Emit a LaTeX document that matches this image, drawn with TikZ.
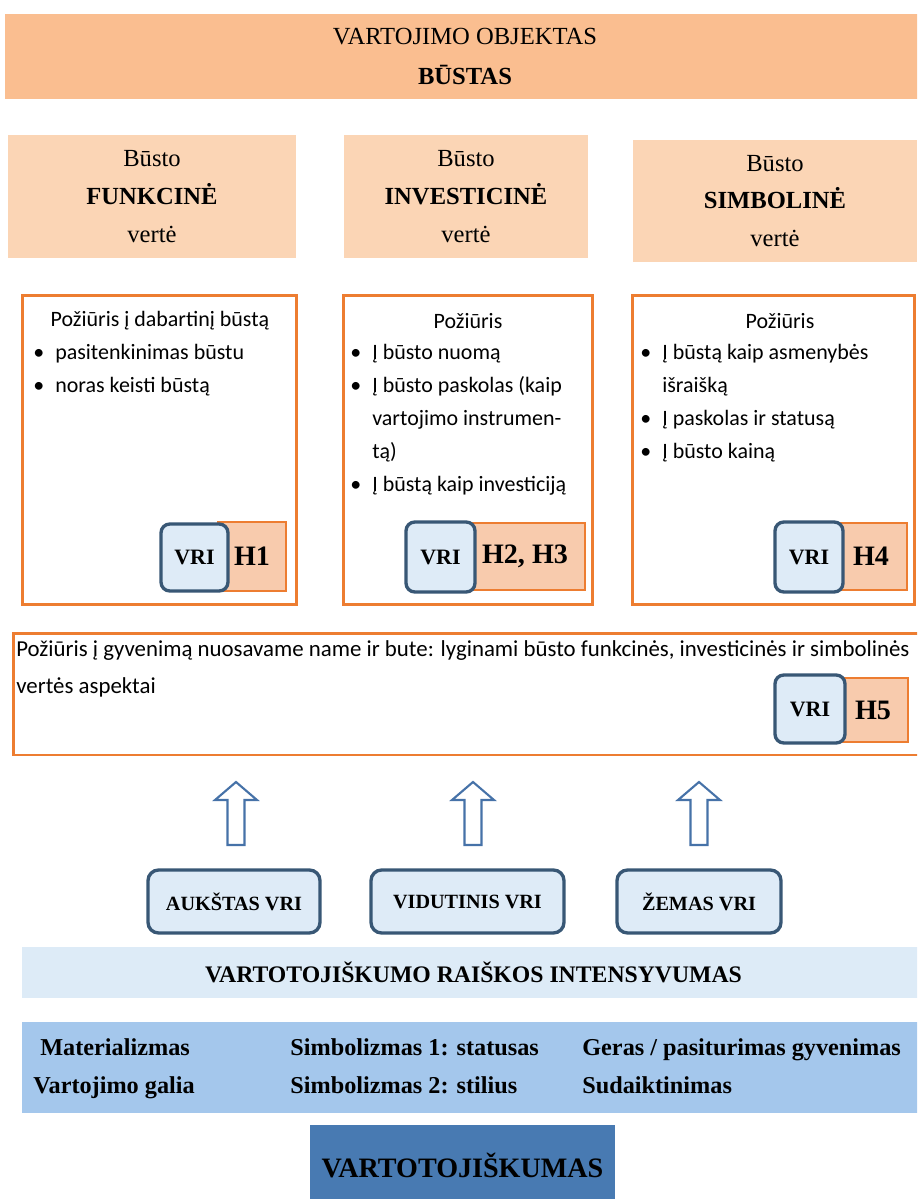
\documentclass[tikz,border=0pt]{standalone}
\usepackage{fontspec}
\setmainfont{Liberation Serif}
\newfontfamily\calibfont{Carlito}

\definecolor{bannerfill}{RGB}{250,190,144}
\definecolor{valuefill}{RGB}{251,213,181}
\definecolor{hborder}{RGB}{237,125,49}
\definecolor{hfill}{RGB}{248,203,173}
\definecolor{vriborder}{RGB}{56,87,117}
\definecolor{vrifill}{RGB}{222,235,247}
\definecolor{bandfill}{RGB}{221,235,247}
\definecolor{factorfill}{RGB}{164,199,236}
\definecolor{rootfill}{RGB}{72,122,178}
\definecolor{arrowblue}{RGB}{70,114,168}

\newcommand{\itembul}{\makebox[12.5pt][l]{\textbullet}}
\newcommand{\itemgap}{\hspace*{12.5pt}}

\begin{document}
\begin{tikzpicture}[
            x=0.02cm, y=-0.02cm,
            banner/.style={
                    fill=bannerfill,
                    align=center,
                    inner sep=0pt,
                    font=\fontsize{14}{22.7}\selectfont
                },
            valuebox/.style={
                    fill=valuefill,
                    align=center,
                    inner sep=0pt,
                    font=\fontsize{14}{21.5}\selectfont
                },
            attbox/.style={
                    draw=hborder,
                    line width=1.7pt,
                    fill=white,
                    inner sep=0pt
                },
            hbox/.style={
                    draw=hborder,
                    line width=1.5pt,
                    fill=hfill,
                    inner sep=0pt,
                    font=\bfseries\fontsize{16}{18}\selectfont
                },
            vribox/.style={
                    draw=vriborder,
                    line width=1.9pt,
                    fill=vrifill,
                    rounded corners=5pt,
                    inner sep=0pt,
                    font=\bfseries\fontsize{12.5}{14}\selectfont
                },
            levelbox/.style={
                    vribox,
                    rounded corners=6pt,
                    font=\bfseries\fontsize{11.5}{14}\selectfont
                },
            attitude/.style={
                    font=\calibfont\fontsize{12.5}{18.7}\selectfont,
                    align=left,
                    inner sep=0pt,
                    anchor=north west
                },
            factor/.style={
                    font=\bfseries\fontsize{13.8}{16}\selectfont,
                    anchor=base west,
                    inner sep=0pt
                },
            uparrow/.pic={
                    \draw[arrowblue, line width=1.2pt, fill=white]
                        (-8.5,63) -- (-8.5,18) -- (-21,18) -- (0,0)
                        -- (21,18) -- (8.5,18) -- (8.5,63) -- cycle;
                }
        ]

        \clip (0,0) rectangle (917,1199);

        % object of consumption
        \node[banner, minimum width=18.4cm, minimum height=1.7cm] (objektas) at (465,56.5)
            {VARTOJIMO OBJEKTAS\\\textbf{BŪSTAS}};

        % three values
        \node[valuebox, minimum width=5.76cm, minimum height=2.46cm] (funkv) at (152,196.5)
            {Būsto\\\textbf{FUNKCINĖ}\\vertė};
        \node[valuebox, minimum width=4.88cm, minimum height=2.46cm] (invv) at (466,196.5)
            {Būsto\\\textbf{INVESTICINĖ}\\vertė};
        \node[valuebox, minimum width=5.68cm, minimum height=2.44cm] (simbv) at (775,201)
            {Būsto\\\textbf{SIMBOLINĖ}\\vertė};

        % attitude boxes
        \node[attbox, minimum width=5.5cm, minimum height=6.2cm] (funka) at (159.5,450) {};
        \node[attbox, minimum width=5.0cm, minimum height=6.2cm] (inva) at (468,450) {};
        \node[attbox, minimum width=5.66cm, minimum height=6.2cm] (simba) at (773.5,450) {};

        \node[font=\calibfont\fontsize{12.5}{15}\selectfont] (funkt) at (160,321) {Požiūris į dabartinį būstą};
        \node[attitude] (funkl) at (33,344)
            {\itembul pasitenkinimas būstu\\
             \itembul noras keisti būstą};

        \node[font=\calibfont\fontsize{12.5}{15}\selectfont] (invt) at (468,321) {Požiūris};
        \node[attitude] (invl) at (350,344)
            {\itembul Į būsto nuomą\\
             \itembul Į būsto paskolas (kaip\\
             \itemgap vartojimo instrumen-\\
             \itemgap tą)\\
             \itembul Į būstą kaip investiciją};

        \node[font=\calibfont\fontsize{12.5}{15}\selectfont] (simbt) at (780,321) {Požiūris};
        \node[attitude] (simbl) at (640,344)
            {\itembul Į būstą kaip asmenybės\\
             \itemgap išraišką\\
             \itembul Į paskolas ir statusą\\
             \itembul Į būsto kainą};

        \node[hbox, minimum width=1.36cm, minimum height=1.38cm] (h1) at (252,556.5) {H1};
        \node[vribox, minimum width=1.34cm, minimum height=1.34cm] (vri1) at (194.5,557.5) {VRI};
        \node[hbox, minimum width=2.4cm, minimum height=1.34cm] (h23) at (525,556.5) {H2, H3};
        \node[vribox, minimum width=1.38cm, minimum height=1.4cm] (vri23) at (440.5,557) {VRI};
        \node[hbox, minimum width=1.44cm, minimum height=1.34cm] (h4) at (871,556.5) {H4};
        \node[vribox, minimum width=1.36cm, minimum height=1.4cm] (vri4) at (809,557) {VRI};

        % living in own home
        \node[attbox, minimum width=18.24cm, minimum height=2.44cm] (gyvena) at (469,694) {};
        \node[attitude, font=\calibfont\fontsize{13}{21.5}\selectfont] (gyvent) at (16,640)
            {Požiūris į gyvenimą nuosavame name ir bute: lyginami būsto funkcinės, investicinės ir simbolinės\\
             vertės aspektai};
        \node[hbox, minimum width=1.4cm, minimum height=1.28cm] (h5) at (873,710) {H5};
        \node[vribox, minimum width=1.4cm, minimum height=1.36cm] (vri5) at (810,709) {VRI};

        % arrows
        \foreach \ax in {236,473,699}
            \pic at (\ax,782) {uparrow};

        % levels
        \node[levelbox, minimum width=3.44cm, minimum height=1.26cm] (aukstas) at (234,901.5) {AUKŠTAS VRI};
        \node[levelbox, minimum width=3.86cm, minimum height=1.26cm] (vidutinis) at (467.5,901.5) {VIDUTINIS VRI};
        \node[levelbox, minimum width=3.28cm, minimum height=1.26cm] (zemas) at (699,901.5) {ŽEMAS VRI};

        \node[fill=bandfill, minimum width=18.06cm, minimum height=1.02cm, inner sep=0pt,
              font=\bfseries\fontsize{13.5}{16}\selectfont] (intens) at (473.5,972.5)
            {VARTOTOJIŠKUMO RAIŠKOS INTENSYVUMAS};

        % factors
        \node[fill=factorfill, minimum width=18.06cm, minimum height=1.82cm, inner sep=0pt] (factors) at (473.5,1067.5) {};
        \node[factor] (mat) at (40,1055) {Materializmas};
        \node[factor] (galia) at (33,1093) {Vartojimo galia};
        \node[factor] (simb1) at (290,1055) {Simbolizmas 1: statusas};
        \node[factor] (simb2) at (290,1093) {Simbolizmas 2: stilius};
        \node[factor] (geras) at (582,1055) {Geras / pasiturimas gyvenimas};
        \node[factor] (daikt) at (582,1093) {Sudaiktinimas};

        \node[fill=rootfill, minimum width=6.1cm, minimum height=1.6cm, inner sep=0pt,
              font=\bfseries\fontsize{16}{18}\selectfont] (root) at (462.5,1165) {VARTOTOJIŠKUMAS};

    \end{tikzpicture}
\end{document}
